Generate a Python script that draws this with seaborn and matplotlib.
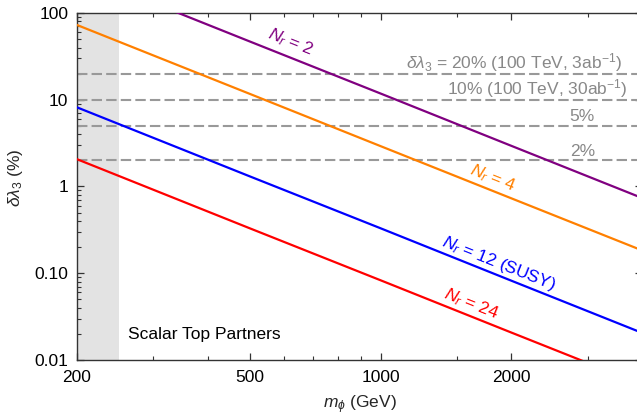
import numpy as np
import pandas as pd
import matplotlib
matplotlib.use("Agg")
import matplotlib.pyplot as plt
import seaborn as sns
from matplotlib.ticker import FixedLocator, NullFormatter, LogLocator

# values (straight lines in log-log)
mass = [200, 500, 1000, 2000, 4000]
nr2 = [294, 47, 11.8, 2.94, 0.735]
nr4 = [73, 11.7, 2.92, 0.73, 0.183]
nr12 = [8.2, 1.31, 0.33, 0.082, 0.0205]
nr24 = [2.07, 0.33, 0.083, 0.0207, 0.0052]

series_names = ['2', '4', '12', '24']
series_colors = ['#800080', '#ff8000', '#0000ff', '#ff0000']
series_labels = [r'$N_r$ = 2', r'$N_r$ = 4', r'$N_r$ = 12 (SUSY)', r'$N_r$ = 24']

lhc_levels = [20, 10, 5, 2]
lhc_labels = [r'$\delta\lambda_3$ = 20% (100 TeV, 3ab$^{-1}$)',
              r'10% (100 TeV, 30ab$^{-1}$)', '5%', '2%']

x_ticks = [200, 500, 1000, 2000]
x_minor = [300, 400, 600, 700, 800, 900, 1500, 3000]
y_ticks = [0.01, 0.1, 1, 10, 100]
y_ticklabels = ['0.01', '0.10', '1', '10', '100']

sns.set_style('ticks')
plt.rcParams['font.family'] = ['Liberation Sans', 'DejaVu Sans']
plt.rcParams['mathtext.fontset'] = 'custom'
plt.rcParams['mathtext.rm'] = 'Liberation Sans'
plt.rcParams['mathtext.it'] = 'Liberation Sans:italic'
plt.rcParams['mathtext.bf'] = 'Liberation Sans:bold'
FS = 12.5

df = pd.DataFrame({
    'mass': mass * 4,
    'dl': nr2 + nr4 + nr12 + nr24,
    'Nr': sum([[n] * len(mass) for n in series_names], []),
})

fig = plt.figure(figsize=(6.37, 4.19), dpi=100)
ax = fig.add_axes([76.7 / 637, 1 - 360 / 419, (642.3 - 76.7) / 637, (360 - 13) / 419])

ax.axvspan(200, 250, color='#e3e3e3', lw=0, zorder=0)

for lev in lhc_levels:
    ax.axhline(lev, color='#999999', lw=1.5, ls=(0, (5, 2)), zorder=1)

sns.lineplot(data=df, x='mass', y='dl', hue='Nr', palette=dict(zip(series_names, series_colors)),
             lw=1.6, legend=False, ax=ax, zorder=3)

ax.set_xscale('log')
ax.set_yscale('log')
ax.set_xlim(200, 4000)
ax.set_ylim(0.01, 100)

ax.xaxis.set_major_locator(FixedLocator(x_ticks))
ax.set_xticklabels([str(t) for t in x_ticks])
ax.xaxis.set_minor_locator(FixedLocator(x_minor))
ax.xaxis.set_minor_formatter(NullFormatter())
ax.yaxis.set_major_locator(FixedLocator(y_ticks))
ax.set_yticklabels(y_ticklabels)
ax.yaxis.set_minor_locator(LogLocator(base=10, subs=np.arange(2, 10)))
ax.yaxis.set_minor_formatter(NullFormatter())

ax.tick_params(which='both', direction='in', top=True, right=True, colors='#333333',
               labelcolor='black', labelsize=FS)
ax.tick_params(which='major', length=5, width=0.9)
ax.tick_params(axis='x', which='major', pad=7)
ax.tick_params(axis='y', which='major', pad=6)
ax.tick_params(which='minor', length=3, width=0.8)
for sp in ax.spines.values():
    sp.set_color('#333333')
    sp.set_linewidth(1.0)

ax.set_xlabel(r'$m_\phi$ (GeV)', fontsize=FS, labelpad=6)
ax.set_ylabel(r'$\delta\lambda_3$ (%)', fontsize=FS)
ax.yaxis.set_label_coords(-0.091, 0.524)

# labels for the dashed lines
label_x = [3587, 3709, 3114, 3114]
label_f = [1.157, 1.157, 1.127, 1.127]
for lev, lab, lx, lf in zip(lhc_levels, lhc_labels, label_x, label_f):
    ax.text(lx, lev * lf, lab, ha='right', va='baseline', color='#888888', fontsize=FS)

# labels along the curves
ang = -np.degrees(np.arctan(2 * 86.7 / 434.7))
label_pos = [(622, 46), (1815, 1.23), (1873, 0.131), (1615, 0.0444)]
for (lx, ly), lab, col in zip(label_pos, series_labels, series_colors):
    ax.text(lx, ly, lab, color=col, rotation=ang, rotation_mode='anchor',
            ha='center', va='center', fontsize=FS)

ax.text(263, 0.0199, 'Scalar Top Partners', color='black', fontsize=FS, ha='left', va='center')

fig.savefig('out.png', dpi=100)
